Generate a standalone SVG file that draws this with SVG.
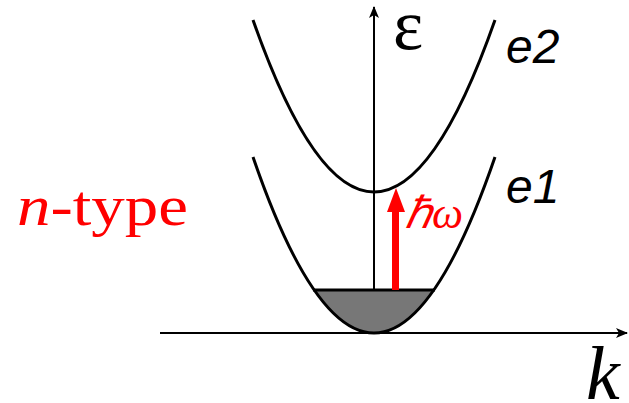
<svg xmlns="http://www.w3.org/2000/svg" width="629" height="403" viewBox="0 0 629 403">
<style>
.band{fill:none;stroke:#000;stroke-width:3}
.axis{stroke:#000;stroke-width:2;fill:none}
.lbl{font-family:"Liberation Sans",Arial,sans-serif;font-style:italic;font-size:48px;fill:#000}
.serif{font-family:"Liberation Serif","Times New Roman",serif}
</style>
<defs>
<marker id="ah" markerWidth="12" markerHeight="10" refX="11" refY="5" orient="auto" markerUnits="userSpaceOnUse">
<path d="M0,0 L12,5 L0,10 L3,5 Z" fill="#000"/>
</marker>
</defs>
<rect width="629" height="403" fill="#fff"/>
<g id="fill">
<path d="M314,290 Q374,376 434,290 Z" fill="#777"/>
<line x1="313" y1="290" x2="435" y2="290" stroke="#000" stroke-width="3"/>
</g>
<g id="connectors">
<line class="axis" x1="160" y1="333" x2="627" y2="333" marker-end="url(#ah)"/>
<line class="axis" x1="374" y1="290" x2="374" y2="7" marker-end="url(#ah)"/>
</g>
<g id="e2">
<path class="band" d="M253,20 Q374,364 495,20"/>
<text class="lbl" x="506" y="63">e2</text>
</g>
<g id="e1">
<path class="band" d="M253,157 Q374,509 495,157"/>
<text class="lbl" x="506" y="203">e1</text>
</g>
<g id="transition">
<rect x="392" y="210" width="7" height="80" fill="#f00"/>
<path d="M396,188 L405,212 L387,212 Z" fill="#f00"/>
<text class="serif" x="405" y="228" font-style="italic" font-size="44" fill="#f00">ℏω</text>
</g>
<g id="labels">
<text class="serif" x="393" y="49" font-size="72" fill="#000">ε</text>
<text class="serif" x="17" y="225" font-size="56" fill="#f00" textLength="171" lengthAdjust="spacingAndGlyphs"><tspan font-style="italic">n</tspan>-type</text>
<text class="serif" x="586" y="399" font-style="italic" font-size="76" fill="#000">k</text>
</g>
</svg>
